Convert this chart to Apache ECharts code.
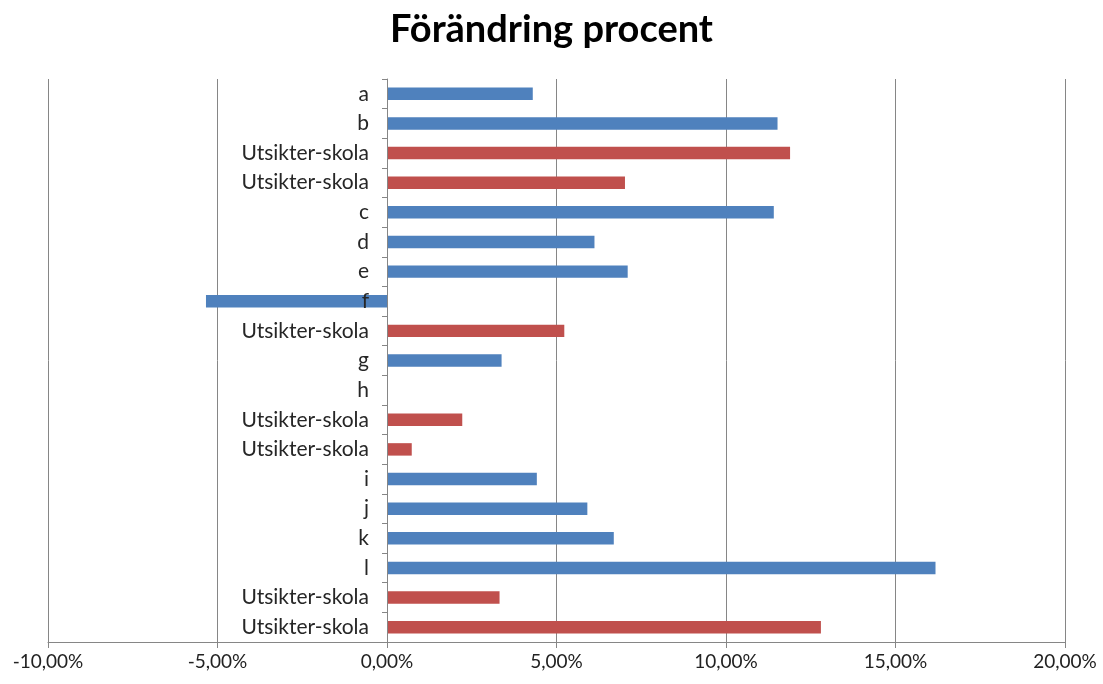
<!DOCTYPE html>
<html>
<head>
<meta charset="utf-8">
<script src="https://cdn.jsdelivr.net/npm/echarts@6/dist/echarts.min.js"></script>
<style>
  html, body { margin: 0; padding: 0; background: #fff; }
  #chart { width: 1103px; height: 684px; }
</style>
</head>
<body>
<div id="chart"></div>
<script>
// kategorier uppifrån och ner
var categories = ['a', 'b', 'Utsikter-skola', 'Utsikter-skola', 'c', 'd', 'e', 'f',
    'Utsikter-skola', 'g', 'h', 'Utsikter-skola', 'Utsikter-skola', 'i', 'j', 'k', 'l',
    'Utsikter-skola', 'Utsikter-skola'];
// förändring i procent
var values = [4.30, 11.52, 11.89, 7.02, 11.41, 6.12, 7.10, -5.34,
    5.23, 3.38, 0, 2.22, 0.73, 4.42, 5.91, 6.69, 16.18,
    3.32, 12.80];
// 1 = skola (röd), 0 = övrigt (blå)
var isSchool = [0, 0, 1, 1, 0, 0, 0, 0, 1, 0, 0, 1, 1, 0, 0, 0, 0, 1, 1];
var xTicks = [-10, -5, 0, 5, 10, 15, 20];

var blue = '#4F81BD', red = '#C0504D';
var font = 'Lato, "Open Sans", sans-serif';

var gridLeft = 48, gridRight = 38;
var xMin = xTicks[0], xMax = xTicks[xTicks.length - 1];
var plotWidth = 1103 - gridLeft - gridRight;
// y-axeln ska stå vid 0
var zeroOffset = -(0 - xMin) / (xMax - xMin) * plotWidth;

var barData = [];
for (var i = 0; i < values.length; i++) {
    barData.push({
        value: values[i],
        itemStyle: { color: isSchool[i] ? red : blue }
    });
}

var myChart = echarts.init(document.getElementById('chart'));
var option = {
    backgroundColor: '#fff',
    animation: false,
    title: {
        text: 'Förändring procent',
        left: 'center',
        top: 6,
        textStyle: { fontFamily: font, fontWeight: 'bold', fontSize: 38, color: '#000' }
    },
    grid: { left: gridLeft, right: gridRight, top: 79, bottom: 42, containLabel: false, outerBoundsMode: 'none' },
    xAxis: {
        type: 'value',
        min: xMin,
        max: xMax,
        interval: 5,
        axisLine: { show: true, lineStyle: { color: '#868686' } },
        axisTick: { show: true, length: 6, lineStyle: { color: '#868686' } },
        splitLine: { show: true, lineStyle: { color: '#868686' } },
        axisLabel: {
            margin: 10,
            fontFamily: font,
            fontSize: 19,
            color: '#222',
            formatter: function (v) { return v.toFixed(2).replace('.', ',') + '%'; }
        }
    },
    yAxis: {
        type: 'category',
        inverse: true,
        data: categories,
        offset: zeroOffset,
        z: 5,
        axisLine: { onZero: false, lineStyle: { color: '#868686' } },
        axisTick: { show: true, length: 5, lineStyle: { color: '#868686' } },
        axisLabel: {
            margin: 18,
            fontFamily: font,
            fontSize: 21,
            color: '#262626',
            interval: 0
        }
    },
    series: [{
        type: 'bar',
        barWidth: '42%',
        data: barData
    }]
};
myChart.setOption(option);
</script>
</body>
</html>
